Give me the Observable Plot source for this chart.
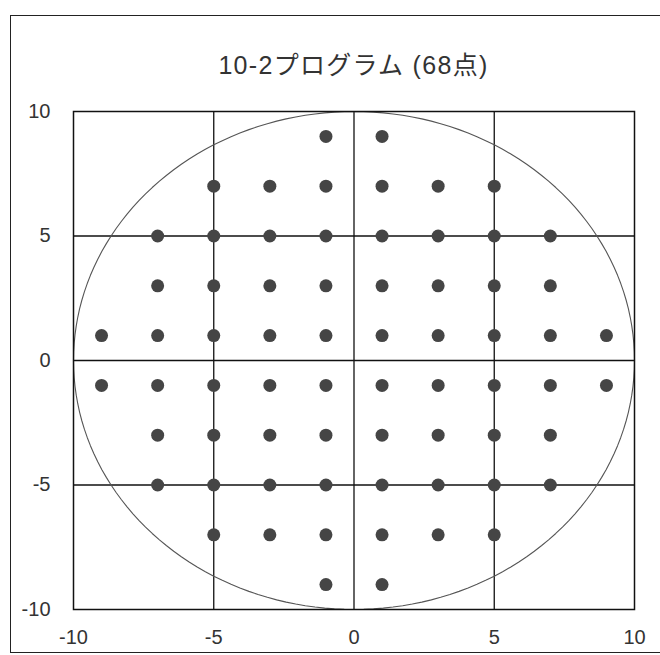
<!DOCTYPE html>
<html>
<head>
<meta charset="utf-8">
<script src="https://cdn.jsdelivr.net/npm/d3@7"></script>
<script src="https://cdn.jsdelivr.net/npm/@observablehq/plot@0.6"></script>
<style>
  html, body { margin: 0; padding: 0; background: #fff; overflow: hidden; }
  #wrap { position: relative; width: 660px; height: 655px; overflow: hidden; }
  #bt { position: absolute; left: 10px; top: 15px; width: 660px; height: 0; border-top: 1.5px solid #222; }
  #bl { position: absolute; left: 10px; top: 15px; width: 0; height: 638px; border-left: 1.5px solid #222; }
  #bb { position: absolute; left: 10px; top: 652px; width: 660px; height: 0; border-top: 1.5px solid #222; }
  #title { position: absolute; left: 73px; width: 561px; top: 49px; text-align: center;
           font-family: "Liberation Sans", Arial, "Noto Sans CJK JP", sans-serif;
           font-size: 25px; letter-spacing: 1.3px; color: #333; line-height: 32px; }
  #chart { position: absolute; left: 0; top: 0; }
</style>
</head>
<body>
<div id="wrap">
  <div id="bt"></div><div id="bl"></div><div id="bb"></div>
  <div id="chart"></div>
  <div id="title">10-2プログラム (68点)</div>
</div>
<script>
// Test point grid of the 10-2 program (68 points), in degrees
const rowY = [9, 7, 5, 3, 1, -1, -3, -5, -7, -9];
const rowX = [
  [-1, 1],
  [-5, -3, -1, 1, 3, 5],
  [-7, -5, -3, -1, 1, 3, 5, 7],
  [-7, -5, -3, -1, 1, 3, 5, 7],
  [-9, -7, -5, -3, -1, 1, 3, 5, 7, 9],
  [-9, -7, -5, -3, -1, 1, 3, 5, 7, 9],
  [-7, -5, -3, -1, 1, 3, 5, 7],
  [-7, -5, -3, -1, 1, 3, 5, 7],
  [-5, -3, -1, 1, 3, 5],
  [-1, 1]
];
const tickValues = [-10, -5, 0, 5, 10];
const gridValues = [-5, 0, 5];
const circleRadius = 10;

const points = rowY.flatMap((y, i) => rowX[i].map(x => ({x, y})));
const circle = d3.range(0, 361, 2).map(a => ({
  x: circleRadius * Math.cos(a * Math.PI / 180),
  y: circleRadius * Math.sin(a * Math.PI / 180)
}));

const fmt = d => String(d);

const chart = Plot.plot({
  width: 660,
  height: 655,
  marginLeft: 73,
  marginRight: 26,
  marginTop: 111,
  marginBottom: 46,
  style: { fontFamily: "'Liberation Sans', Arial, sans-serif", fontSize: "20px", color: "#333", background: "transparent" },
  x: { domain: [-10, 10], ticks: tickValues, tickFormat: fmt, tickSize: 0, tickPadding: 20, label: null },
  y: { domain: [-10, 10], ticks: tickValues, tickFormat: fmt, tickSize: 0, tickPadding: 23, label: null },
  marks: [
    Plot.ruleX(gridValues, { stroke: "#111", strokeWidth: 1.3 }),
    Plot.ruleY(gridValues, { stroke: "#111", strokeWidth: 1.3 }),
    Plot.line(circle, { x: "x", y: "y", stroke: "#555", strokeWidth: 1.1 }),
    Plot.frame({ stroke: "#111", strokeWidth: 1.5 }),
    Plot.dot(points, { x: "x", y: "y", r: 6.5, fill: "#454545", stroke: "none" })
  ]
});
document.getElementById("chart").appendChild(chart);
</script>
</body>
</html>
